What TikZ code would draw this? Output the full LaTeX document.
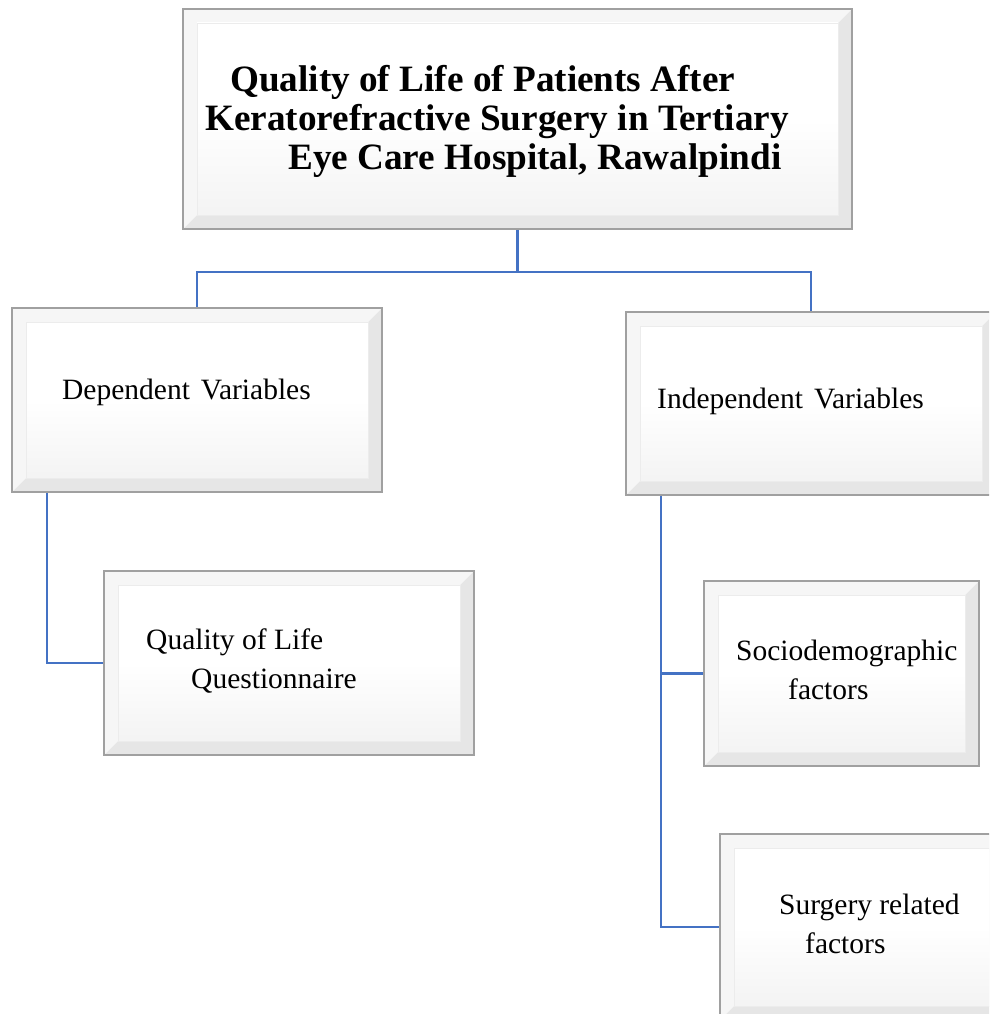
\documentclass[tikz,border=0pt]{standalone}
\usepackage{fontspec}
\setmainfont{Liberation Serif}
\usepackage{xcolor}
\usepackage{tikz}
\usetikzlibrary{positioning, calc}

\definecolor{linkblue}{HTML}{4472C4}
\definecolor{boxedge}{HTML}{A0A0A0}
\definecolor{bevdark}{HTML}{E6E6E6}
\definecolor{bevlight}{HTML}{F6F6F6}

\tikzset{
	bevelbox/.style={draw=boxedge, line width=1.6pt, fill=bevdark, inner sep=0pt,
		path picture={
			\fill[bevlight] (path picture bounding box.north west) -- (path picture bounding box.north east)
				-- ([shift={(-14pt,-14pt)}]path picture bounding box.north east)
				-- ([shift={(14pt,14pt)}]path picture bounding box.south west)
				-- (path picture bounding box.south west) -- cycle;
			\shade[top color=white, bottom color=gray!9, middle color=white, draw=gray!15, line width=0.5pt]
				([shift={(14pt,-14pt)}]path picture bounding box.north west) rectangle
				([shift={(-14pt,14pt)}]path picture bounding box.south east);
		}},
	boxtext/.style={anchor=west, inner sep=0pt, align=left, font=\fontsize{29.5}{39}\selectfont},
	titletext/.style={anchor=west, inner sep=0pt, align=left, font=\bfseries\fontsize{37.2}{39}\selectfont},
	link/.style={draw=linkblue, line width=2.5pt}
}

\begin{document}
\begin{tikzpicture}[x=1pt, y=-1pt]
	\useasboundingbox (0,0) rectangle (989,1014);
	\clip (0,0) rectangle (989,1014);
	\fill[white] (0,0) rectangle (989,1014);

	% Boxes
	\node[bevelbox, minimum width=669, minimum height=220] (title) at (517.5,119) {};
	\node[bevelbox, minimum width=370, minimum height=184] (dep) at (197,400) {};
	\node[bevelbox, minimum width=370, minimum height=183] (indep) at (811,403.5) {};
	\node[bevelbox, minimum width=370, minimum height=184] (qol) at (289,663) {};
	\node[bevelbox, minimum width=275, minimum height=185] (socio) at (841.5,673.5) {};
	\node[bevelbox, minimum width=290, minimum height=186] (surg) at (865,927) {};

	% Texts
	\node[titletext] (title-text) at (205,121) {\hspace*{25pt}Quality of Life of Patients After\\Keratorefractive Surgery in Tertiary\\\hspace*{83pt}Eye Care Hospital, Rawalpindi};
	\node[boxtext] (dep-text) at (62,392) {Dependent\hspace{11pt}Variables};
	\node[boxtext] (indep-text) at (657,401) {Independent\hspace{11pt}Variables};
	\node[boxtext] (qol-text) at (146,661) {Quality of Life\\\hspace*{45pt}Questionnaire};
	\node[boxtext] (socio-text) at (736,670) {Sociodemographic\\\hspace*{52pt}factors};
	\node[boxtext] (surg-text) at (779,924) {Surgery related\\\hspace*{26pt}factors};

	% Connectors
	\draw[link] (title.south) -- ++(0,42) coordinate (split) -| (dep.north);
	\draw[link] (split) -| (indep.north);
	\draw[link] ([xshift=36pt]dep.south west) |- (qol.west);
	\draw[link] ([xshift=36pt]indep.south west) |- (socio.west);
	\draw[link] ([xshift=36pt]indep.south west) |- (surg.west);
\end{tikzpicture}
\end{document}
